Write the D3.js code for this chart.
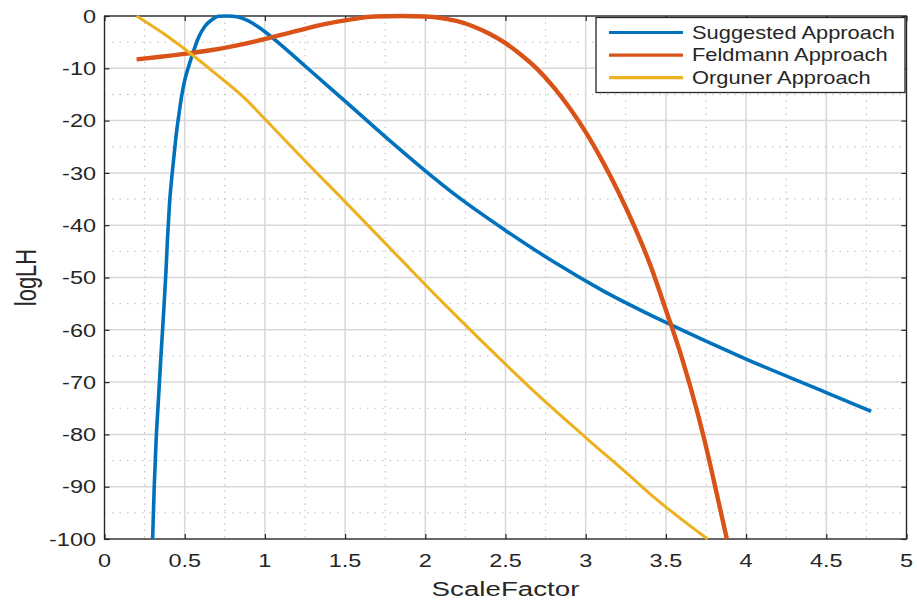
<!DOCTYPE html>
<html>
<head>
<meta charset="utf-8">
<script src="https://cdn.jsdelivr.net/npm/d3@7"></script>
<style>
  html, body { margin: 0; padding: 0; background: #fff; }
  svg { display: block; }
</style>
</head>
<body>
<svg id="chart" width="917" height="603"></svg>
<script>
// Log-likelihood versus scale factor for three estimation approaches
const suggestedX = [0.300, 0.310, 0.322, 0.336, 0.352, 0.367, 0.383, 0.392, 0.405, 0.420, 0.435, 0.450, 0.465, 0.480, 0.500, 0.525, 0.550, 0.585, 0.625, 0.670, 0.710, 0.760, 0.800, 0.850, 0.900, 0.950, 1.000, 1.100, 1.200, 1.400, 1.600, 1.800, 2.000, 2.200, 2.500, 2.800, 3.100, 3.500, 4.000, 4.500, 4.780];
const suggestedY = [-100, -90, -81, -73.5, -65, -57.5, -49, -43, -36, -30.7, -26.2, -22, -18.6, -15.5, -12.3, -9.6, -7.2, -4.2, -2.0, -0.7, -0.05, 0, -0.05, -0.35, -1.0, -1.9, -3.0, -5.5, -8.2, -13.6, -19.0, -24.4, -29.6, -34.5, -41.0, -47.0, -52.4, -58.6, -65.6, -72.0, -75.6];

const feldmannX = [0.20, 0.35, 0.50, 0.65, 0.78, 1.03, 1.18, 1.38, 1.55, 1.68, 1.85, 2.00, 2.10, 2.20, 2.30, 2.40, 2.50, 2.60, 2.70, 2.80, 2.90, 3.00, 3.10, 3.20, 3.30, 3.40, 3.50, 3.60, 3.70, 3.75, 3.80, 3.88];
const feldmannY = [-8.3, -7.8, -7.25, -6.6, -5.9, -4.2, -3.0, -1.5, -0.6, -0.1, 0, -0.1, -0.4, -1.0, -2.0, -3.4, -5.2, -7.5, -10.2, -13.6, -17.6, -22.2, -27.5, -33.4, -40.0, -47.4, -56.2, -65.4, -76.2, -82.3, -89.0, -100];

const orgunerX = [0.20, 0.37, 0.55, 0.70, 0.88, 1.00, 1.24, 1.49, 1.84, 2.11, 2.40, 2.70, 3.00, 3.30, 3.41, 3.76];
const orgunerY = [0, -3.4, -7.5, -11.2, -15.9, -19.7, -27.4, -35.2, -46.3, -54.8, -63.6, -72.4, -80.6, -88.6, -91.6, -100];

const seriesNames = ["Suggested Approach", "Feldmann Approach", "Orguner Approach"];
const seriesColors = ["#0072BD", "#D95319", "#EDB120"];

const xTickValues = [0, 0.5, 1, 1.5, 2, 2.5, 3, 3.5, 4, 4.5, 5];
const yTickValues = [-100, -90, -80, -70, -60, -50, -40, -30, -20, -10, 0];
const xMinorValues = [0.25, 0.75, 1.25, 1.75, 2.25, 2.75, 3.25, 3.75, 4.25, 4.75];
const yMinorValues = [-95, -85, -75, -65, -55, -45, -35, -25, -15, -5];

const xLabel = "ScaleFactor";
const yLabel = "logLH";

// ---- layout ----
const plotLeft = 104.5, plotRight = 906.5, plotTop = 16, plotBottom = 539;
const FONT = "'Liberation Sans', Arial, Helvetica, sans-serif";
const AXIS = "#262626";

const svg = d3.select("#chart");
const x = d3.scaleLinear().domain([0, 5]).range([plotLeft, plotRight]);
const y = d3.scaleLinear().domain([-100, 0]).range([plotBottom, plotTop]);

// text helper: glyphs are drawn slightly wide, as in the exported figure
function stretchedText(parent, px, py, str, size, sx, anchor, rotate) {
  const g = parent.append("g")
    .attr("transform", `translate(${px},${py}) scale(${sx},1)` + (rotate ? ` rotate(${rotate})` : ""));
  g.append("text")
    .attr("x", 0).attr("y", 0)
    .attr("text-anchor", anchor)
    .attr("font-family", FONT)
    .attr("font-size", size)
    .attr("fill", AXIS)
    .text(str);
  return g;
}

// ---- grid ----
const grid = svg.append("g");
grid.selectAll(".minx").data(xMinorValues).join("line")
  .attr("x1", d => x(d)).attr("x2", d => x(d))
  .attr("y1", plotTop).attr("y2", plotBottom)
  .attr("stroke", "#bdbdbd").attr("stroke-width", 1)
  .attr("stroke-dasharray", "1.5,5");
grid.selectAll(".miny").data(yMinorValues).join("line")
  .attr("x1", plotLeft).attr("x2", plotRight)
  .attr("y1", d => y(d)).attr("y2", d => y(d))
  .attr("stroke", "#bdbdbd").attr("stroke-width", 1)
  .attr("stroke-dasharray", "1.5,6");
grid.selectAll(".majx").data(xTickValues).join("line")
  .attr("x1", d => x(d)).attr("x2", d => x(d))
  .attr("y1", plotTop).attr("y2", plotBottom)
  .attr("stroke", "#d8d8d8").attr("stroke-width", 1.5);
grid.selectAll(".majy").data(yTickValues).join("line")
  .attr("x1", plotLeft).attr("x2", plotRight)
  .attr("y1", d => y(d)).attr("y2", d => y(d))
  .attr("stroke", "#d8d8d8").attr("stroke-width", 1.5);

// ---- axes box with inward ticks on all sides ----
const tickLen = 5;
const axG = svg.append("g");
function styleAxis(g) {
  g.select(".domain").remove();
  g.selectAll(".tick line").attr("stroke", AXIS).attr("stroke-width", 1.2);
  g.selectAll(".tick text").remove();
}
axG.append("g").attr("transform", `translate(0,${plotBottom})`)
  .call(d3.axisBottom(x).tickValues(xTickValues).tickSize(-tickLen)).call(styleAxis);
axG.append("g").attr("transform", `translate(0,${plotTop})`)
  .call(d3.axisTop(x).tickValues(xTickValues).tickSize(-tickLen)).call(styleAxis);
axG.append("g").attr("transform", `translate(${plotLeft},0)`)
  .call(d3.axisLeft(y).tickValues(yTickValues).tickSize(-tickLen)).call(styleAxis);
axG.append("g").attr("transform", `translate(${plotRight},0)`)
  .call(d3.axisRight(y).tickValues(yTickValues).tickSize(-tickLen)).call(styleAxis);
axG.append("rect")
  .attr("x", plotLeft).attr("y", plotTop)
  .attr("width", plotRight - plotLeft).attr("height", plotBottom - plotTop)
  .attr("fill", "none").attr("stroke", AXIS).attr("stroke-width", 1.3);

// tick labels (plain hyphen for negatives)
const fmt = v => String(v);
xTickValues.forEach(v => stretchedText(svg, x(v), 567, fmt(v), 18.5, 1.27, "middle"));
yTickValues.forEach(v => stretchedText(svg, 96, y(v) + 6.7, fmt(v), 18.5, 1.27, "end"));

// axis labels
stretchedText(svg, (plotLeft + plotRight) / 2, 596, xLabel, 21, 1.32, "middle");
stretchedText(svg, 36, (plotTop + plotBottom) / 2, yLabel, 22, 1.3, "middle", -90);

// ---- curves ----
const seriesData = [
  { xs: suggestedX, ys: suggestedY, width: 3.6 },
  { xs: feldmannX, ys: feldmannY, width: 4.4 },
  { xs: orgunerX, ys: orgunerY, width: 3.0 }
];
seriesData.forEach((s, i) => {
  const pts = s.xs.map((v, k) => [v, s.ys[k]]);
  const line = d3.line().x(d => x(d[0])).y(d => y(d[1])).curve(d3.curveMonotoneX);
  svg.append("path")
    .attr("d", line(pts))
    .attr("fill", "none")
    .attr("stroke", seriesColors[i])
    .attr("stroke-width", s.width)
    .attr("stroke-linejoin", "round");
});

// ---- legend ----
const lg = svg.append("g");
lg.append("rect")
  .attr("x", 596).attr("y", 17.5).attr("width", 309).attr("height", 75)
  .attr("fill", "#fff").attr("stroke", AXIS).attr("stroke-width", 1.3);
seriesNames.forEach((name, i) => {
  const cy = 32.5 + i * 22.6;
  lg.append("line")
    .attr("x1", 609).attr("x2", 683).attr("y1", cy).attr("y2", cy)
    .attr("stroke", seriesColors[i]).attr("stroke-width", 3.2);
  stretchedText(lg, 692, cy + 6.3, name, 17.5, 1.25, "start");
});
</script>
</body>
</html>
